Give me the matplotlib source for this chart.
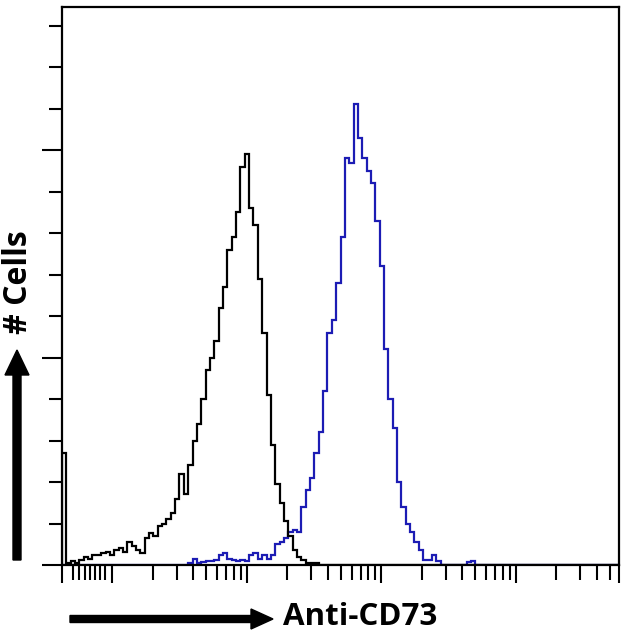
import numpy as np
import matplotlib.pyplot as plt
from matplotlib.patches import FancyArrow
from matplotlib.ticker import FixedLocator, NullFormatter

# -------------------------------
# histogram data
# 128 log-spaced channels across the axis
# -------------------------------
n_channels = 128
log_lo, log_hi = 0.625, 4.766

# control (black), starts at channel 0
control_start = 0
control_counts = [27, 0.5, 1, 0.5, 1.2, 2, 1.5, 2.4, 2.4, 3,
                  3.2, 2.5, 3.5, 4, 3.2, 5.5, 4.5, 3.6, 3.0, 6.5,
                  7.7, 7, 9.5, 10, 11, 12.5, 16, 22, 17, 24,
                  30, 34, 40, 47, 50, 54, 62, 67, 76, 79,
                  85, 96, 99, 86, 82, 69, 56, 41, 29, 19.5,
                  15, 10.5, 7, 3.5, 2, 1.2, 0.5, 0.5, 0.5]

# anti-CD73 (blue), starts at channel 29
cd73_start = 29
cd73_counts = [0.5, 1.5, 0.5, 0.8, 1, 1, 1.2, 2.5, 3, 1.5,
               1.2, 1, 1.2, 1, 2.5, 3, 1.5, 2.5, 1.5, 2.5,
               5, 5.5, 6.5, 8, 8.5, 8, 14, 18, 21, 27,
               32, 42, 56, 59, 68, 79, 98, 97, 111, 103,
               98, 95, 92, 83, 72, 52, 40, 33, 20, 14,
               10, 8, 5.5, 3.5, 1.2, 1.2, 2.5, 1, 0, 0,
               0, 0, 0, 0, 0.8, 1]

# first (partial) decade minor ticks as drawn by the instrument
first_decade_ticks = [5.08, 5.64, 6.25, 6.81, 7.41, 8.07, 8.79]
last_decade_ticks = [20000, 30000, 40000, 50000]

LINE_BLUE = "#1c1cb4"

plt.rcParams["font.family"] = ["Open Sans", "DejaVu Sans"]

edges = np.logspace(log_lo, log_hi, n_channels + 1)


def to_channels(start, vals):
    arr = np.zeros(n_channels)
    arr[start:start + len(vals)] = vals
    return arr


fig = plt.figure(figsize=(6.3, 6.32), dpi=100)
ax = fig.add_axes([62 / 630, 67 / 632, 557 / 630, 558 / 632])

ax.stairs(to_channels(cd73_start, cd73_counts), edges, color=LINE_BLUE, lw=1.6)
ax.stairs(to_channels(control_start, control_counts), edges, color="black", lw=1.6)

ax.set_xscale("log")
ax.set_xlim(edges[0], edges[-1])
ax.set_ylim(0, 134.5)

# x ticks
major_x = [edges[0], 10, 100, 1000, 10000, edges[-1]]
minor_x = list(first_decade_ticks)
for d in [10, 100, 1000]:
    minor_x += [k * d for k in range(2, 10)]
minor_x += last_decade_ticks
ax.xaxis.set_major_locator(FixedLocator(major_x))
ax.xaxis.set_minor_locator(FixedLocator(minor_x))
ax.xaxis.set_major_formatter(NullFormatter())
ax.xaxis.set_minor_formatter(NullFormatter())

# y ticks
ax.yaxis.set_major_locator(FixedLocator([0, 50, 100]))
ax.yaxis.set_minor_locator(FixedLocator([10, 20, 30, 40, 60, 70, 80, 90, 110, 120, 130]))
ax.yaxis.set_major_formatter(NullFormatter())

ax.tick_params(axis="x", which="major", direction="out", length=13, width=1.5)
ax.tick_params(axis="x", which="minor", direction="out", length=10.5, width=1.5)
ax.tick_params(axis="y", which="major", direction="out", length=14.5, width=1.5)
ax.tick_params(axis="y", which="minor", direction="out", length=9.5, width=1.5)
for s in ax.spines.values():
    s.set_linewidth(1.6)

# axis arrows + labels (figure pixel geometry)
px = fig.dpi_scale_trans
fig.add_artist(FancyArrow(0.70, 0.13, 2.03, 0, width=0.07, head_width=0.20,
                          head_length=0.22, length_includes_head=True,
                          color="black", transform=px))
fig.add_artist(FancyArrow(0.17, 0.72, 0, 2.10, width=0.08, head_width=0.24,
                          head_length=0.25, length_includes_head=True,
                          color="black", transform=px))

fig.text(283 / 630, 7 / 632, "Anti-CD73", fontsize=22.5, fontweight="bold",
         ha="left", va="baseline")
fig.text(27 / 630, (632 - 282.5) / 632, "# Cells", fontsize=23, fontweight="bold",
         rotation=90, rotation_mode="anchor", ha="center", va="baseline")

fig.savefig("out.png", dpi=100)
